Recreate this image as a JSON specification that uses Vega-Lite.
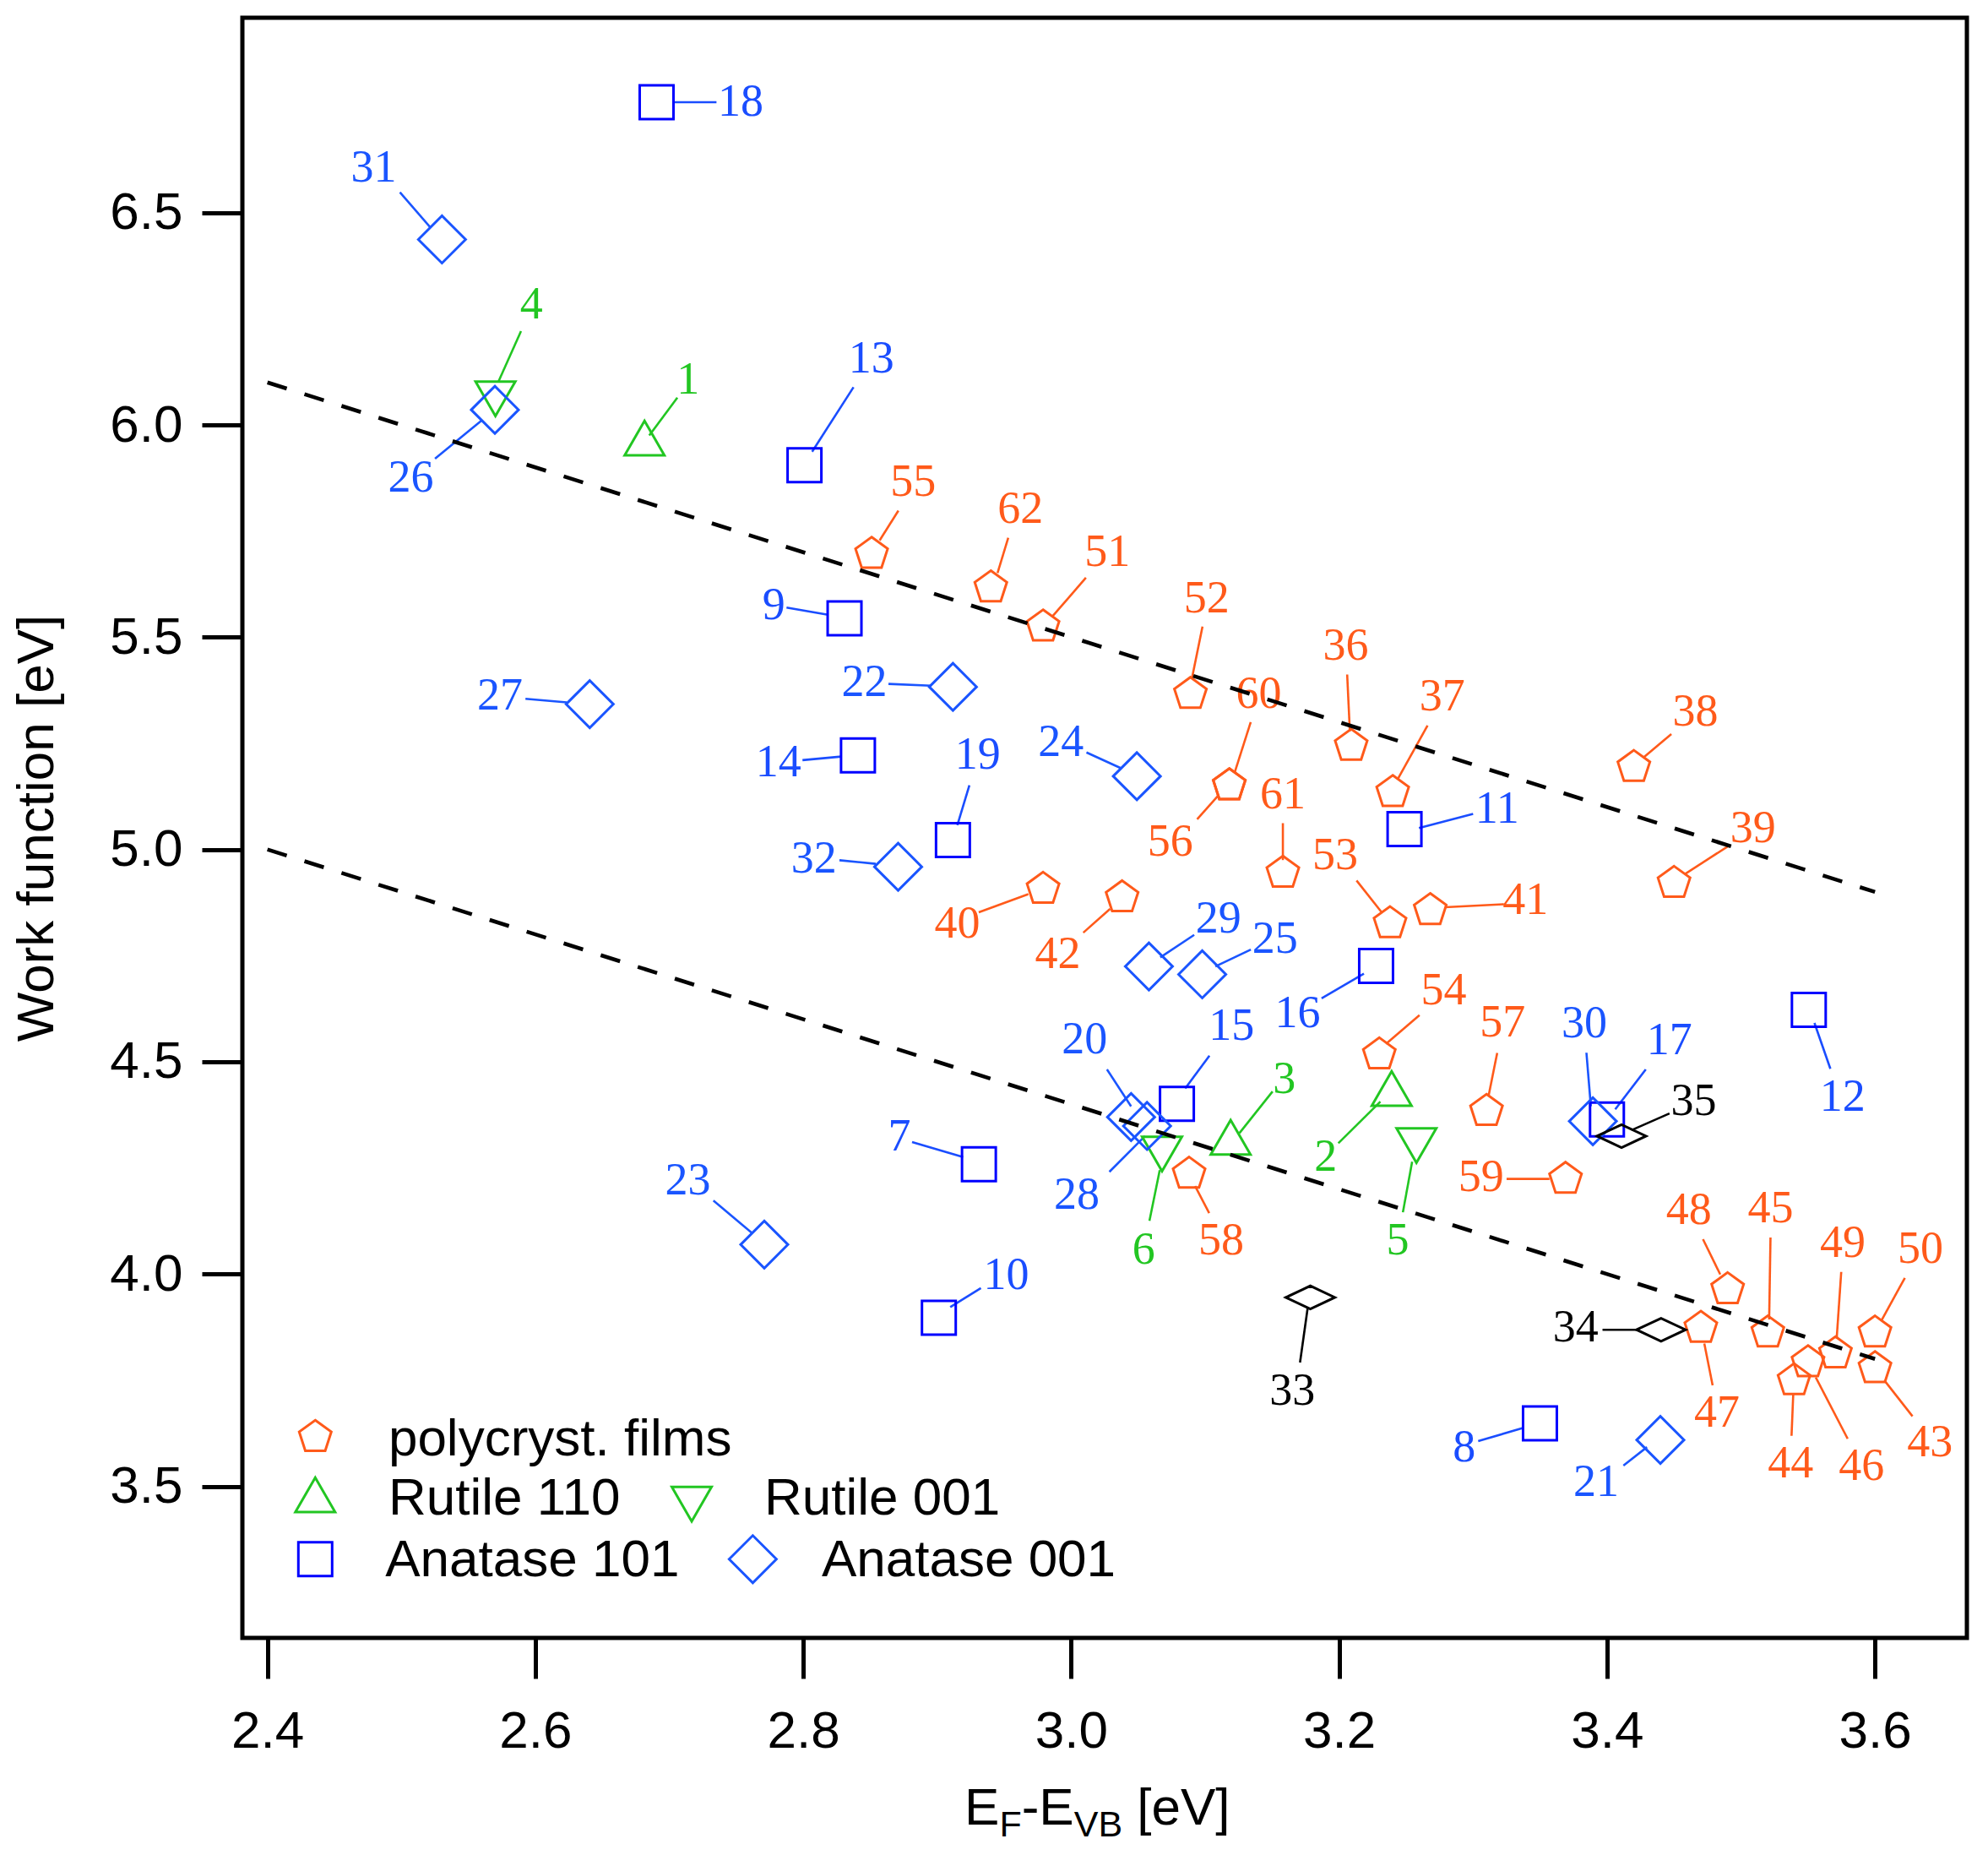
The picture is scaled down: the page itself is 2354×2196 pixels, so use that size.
{
  "$schema": "https://vega.github.io/schema/vega-lite/v6.json",
  "width": 2042,
  "height": 1918,
  "autosize": {"type": "none"},
  "padding": {"left": 287, "top": 21, "right": 25, "bottom": 257},
  "background": "white",
  "config": {
    "view": {"stroke": "black", "strokeWidth": 5},
    "axis": {
      "domain": false,
      "grid": false,
      "ticks": true,
      "tickColor": "black",
      "tickWidth": 5,
      "tickSize": 48,
      "labelFont": "Liberation Sans",
      "labelFontSize": 62,
      "labelColor": "black",
      "titleFont": "Liberation Sans",
      "titleFontSize": 62,
      "titleFontWeight": "normal",
      "titleColor": "black"
    },
    "axisX": {"labelPadding": 32},
    "axisY": {"labelPadding": 23, "titlePadding": 54}
  },
  "datasets": {
    "points": [
      {"id": "55", "cat": "polycryst. films", "x": 2.851, "y": 5.696, "tx": 2.882, "ty": 5.864, "x1": 2.857, "y1": 5.728, "x2": 2.871, "y2": 5.798},
      {"id": "62", "cat": "polycryst. films", "x": 2.940, "y": 5.617, "tx": 2.962, "ty": 5.801, "x1": 2.945, "y1": 5.651, "x2": 2.953, "y2": 5.734},
      {"id": "51", "cat": "polycryst. films", "x": 2.979, "y": 5.525, "tx": 3.027, "ty": 5.700, "x1": 2.986, "y1": 5.549, "x2": 3.011, "y2": 5.640},
      {"id": "52", "cat": "polycryst. films", "x": 3.089, "y": 5.366, "tx": 3.101, "ty": 5.591, "x1": 3.090, "y1": 5.401, "x2": 3.098, "y2": 5.525},
      {"id": "36", "cat": "polycryst. films", "x": 3.209, "y": 5.244, "tx": 3.205, "ty": 5.478, "x1": 3.208, "y1": 5.278, "x2": 3.206, "y2": 5.412},
      {"id": "37", "cat": "polycryst. films", "x": 3.240, "y": 5.135, "tx": 3.277, "ty": 5.359, "x1": 3.244, "y1": 5.167, "x2": 3.266, "y2": 5.292},
      {"id": "38", "cat": "polycryst. films", "x": 3.420, "y": 5.194, "tx": 3.466, "ty": 5.324, "x1": 3.427, "y1": 5.216, "x2": 3.448, "y2": 5.272},
      {"id": "39", "cat": "polycryst. films", "x": 3.450, "y": 4.921, "tx": 3.509, "ty": 5.050, "x1": 3.458, "y1": 4.942, "x2": 3.492, "y2": 5.011},
      {"id": "60", "cat": "polycryst. films", "x": 3.118, "y": 5.151, "tx": 3.140, "ty": 5.366, "x1": 3.122, "y1": 5.181, "x2": 3.134, "y2": 5.300},
      {"id": "56", "cat": "polycryst. films", "x": 3.118, "y": 5.151, "tx": 3.074, "ty": 5.018, "x1": 3.110, "y1": 5.128, "x2": 3.094, "y2": 5.071},
      {"id": "61", "cat": "polycryst. films", "x": 3.158, "y": 4.945, "tx": 3.158, "ty": 5.128, "x1": 3.158, "y1": 4.975, "x2": 3.158, "y2": 5.062},
      {"id": "53", "cat": "polycryst. films", "x": 3.238, "y": 4.826, "tx": 3.197, "ty": 4.985, "x1": 3.232, "y1": 4.851, "x2": 3.213, "y2": 4.927},
      {"id": "41", "cat": "polycryst. films", "x": 3.268, "y": 4.857, "tx": 3.339, "ty": 4.879, "x1": 3.279, "y1": 4.864, "x2": 3.323, "y2": 4.871},
      {"id": "40", "cat": "polycryst. films", "x": 2.979, "y": 4.907, "tx": 2.915, "ty": 4.825, "x1": 2.968, "y1": 4.895, "x2": 2.931, "y2": 4.852},
      {"id": "42", "cat": "polycryst. films", "x": 3.038, "y": 4.887, "tx": 2.990, "ty": 4.752, "x1": 3.029, "y1": 4.860, "x2": 3.009, "y2": 4.804},
      {"id": "54", "cat": "polycryst. films", "x": 3.230, "y": 4.517, "tx": 3.278, "ty": 4.668, "x1": 3.235, "y1": 4.542, "x2": 3.260, "y2": 4.610},
      {"id": "57", "cat": "polycryst. films", "x": 3.310, "y": 4.384, "tx": 3.322, "ty": 4.592, "x1": 3.3115, "y1": 4.419, "x2": 3.318, "y2": 4.521},
      {"id": "59", "cat": "polycryst. films", "x": 3.369, "y": 4.224, "tx": 3.306, "ty": 4.227, "x1": 3.357, "y1": 4.224, "x2": 3.325, "y2": 4.224},
      {"id": "58", "cat": "polycryst. films", "x": 3.088, "y": 4.236, "tx": 3.112, "ty": 4.079, "x1": 3.0925, "y1": 4.207, "x2": 3.103, "y2": 4.1435},
      {"id": "48", "cat": "polycryst. films", "x": 3.490, "y": 3.964, "tx": 3.461, "ty": 4.150, "x1": 3.4845, "y1": 3.999, "x2": 3.4716, "y2": 4.082},
      {"id": "47", "cat": "polycryst. films", "x": 3.470, "y": 3.873, "tx": 3.482, "ty": 3.672, "x1": 3.4726, "y1": 3.8365, "x2": 3.4788, "y2": 3.738},
      {"id": "45", "cat": "polycryst. films", "x": 3.520, "y": 3.862, "tx": 3.522, "ty": 4.154, "x1": 3.521, "y1": 3.893, "x2": 3.522, "y2": 4.086},
      {"id": "49", "cat": "polycryst. films", "x": 3.5705, "y": 3.813, "tx": 3.576, "ty": 4.072, "x1": 3.5714, "y1": 3.848, "x2": 3.5748, "y2": 4.005},
      {"id": "50", "cat": "polycryst. films", "x": 3.600, "y": 3.862, "tx": 3.634, "ty": 4.058, "x1": 3.6047, "y1": 3.890, "x2": 3.6223, "y2": 3.991},
      {"id": "43", "cat": "polycryst. films", "x": 3.600, "y": 3.778, "tx": 3.641, "ty": 3.602, "x1": 3.607, "y1": 3.7495, "x2": 3.628, "y2": 3.665},
      {"id": "44", "cat": "polycryst. films", "x": 3.5396, "y": 3.7495, "tx": 3.537, "ty": 3.553, "x1": 3.539, "y1": 3.7186, "x2": 3.5377, "y2": 3.619},
      {"id": "46", "cat": "polycryst. films", "x": 3.550, "y": 3.792, "tx": 3.590, "ty": 3.546, "x1": 3.5558, "y1": 3.7565, "x2": 3.5796, "y2": 3.612},
      {"id": "1", "cat": "Rutile 110", "x": 2.6815, "y": 5.969, "tx": 2.714, "ty": 6.106, "x1": 2.685, "y1": 5.975, "x2": 2.706, "y2": 6.064},
      {"id": "2", "cat": "Rutile 110", "x": 3.2392, "y": 4.437, "tx": 3.190, "ty": 4.275, "x1": 3.2308, "y1": 4.406, "x2": 3.1994, "y2": 4.308},
      {"id": "3", "cat": "Rutile 110", "x": 3.119, "y": 4.322, "tx": 3.159, "ty": 4.458, "x1": 3.1256, "y1": 4.332, "x2": 3.1503, "y2": 4.430},
      {"id": "4", "cat": "Rutile 001", "x": 2.5702, "y": 6.0615, "tx": 2.597, "ty": 6.2825, "x1": 2.5726, "y1": 6.103, "x2": 2.5893, "y2": 6.2207},
      {"id": "5", "cat": "Rutile 001", "x": 3.2577, "y": 4.3025, "tx": 3.2437, "ty": 4.079, "x1": 3.2545, "y1": 4.2647, "x2": 3.2476, "y2": 4.1455},
      {"id": "6", "cat": "Rutile 001", "x": 3.0678, "y": 4.2827, "tx": 3.0541, "ty": 4.0558, "x1": 3.0661, "y1": 4.2449, "x2": 3.0584, "y2": 4.1255},
      {"id": "18", "cat": "Anatase 101", "x": 2.6905, "y": 6.760, "tx": 2.7533, "ty": 6.760, "x1": 2.7034, "y1": 6.760, "x2": 2.7352, "y2": 6.760},
      {"id": "13", "cat": "Anatase 101", "x": 2.8009, "y": 5.905, "tx": 2.8508, "ty": 6.1562, "x1": 2.8066, "y1": 5.937, "x2": 2.8375, "y2": 6.0888},
      {"id": "9", "cat": "Anatase 101", "x": 2.8308, "y": 5.5443, "tx": 2.778, "ty": 5.574, "x1": 2.8184, "y1": 5.5528, "x2": 2.7875, "y2": 5.5696},
      {"id": "14", "cat": "Anatase 101", "x": 2.8408, "y": 5.2216, "tx": 2.7814, "ty": 5.2048, "x1": 2.8284, "y1": 5.2188, "x2": 2.7994, "y2": 5.2104},
      {"id": "19", "cat": "Anatase 101", "x": 2.9117, "y": 5.0223, "tx": 2.9302, "ty": 5.2216, "x1": 2.915, "y1": 5.0574, "x2": 2.924, "y2": 5.1514},
      {"id": "7", "cat": "Anatase 101", "x": 2.9311, "y": 4.2589, "tx": 2.8717, "ty": 4.322, "x1": 2.9193, "y1": 4.2757, "x2": 2.8812, "y2": 4.3108},
      {"id": "10", "cat": "Anatase 101", "x": 2.9012, "y": 3.8969, "tx": 2.9515, "ty": 3.997, "x1": 2.9097, "y1": 3.9221, "x2": 2.9326, "y2": 3.967},
      {"id": "15", "cat": "Anatase 101", "x": 3.0789, "y": 4.4007, "tx": 3.1196, "ty": 4.583, "x1": 3.0851, "y1": 4.4372, "x2": 3.1032, "y2": 4.5144},
      {"id": "16", "cat": "Anatase 101", "x": 3.2276, "y": 4.7257, "tx": 3.169, "ty": 4.6132, "x1": 3.2185, "y1": 4.7074, "x2": 3.1869, "y2": 4.6495},
      {"id": "11", "cat": "Anatase 101", "x": 3.2488, "y": 5.048, "tx": 3.318, "ty": 5.0953, "x1": 3.2596, "y1": 5.0504, "x2": 3.300, "y2": 5.084},
      {"id": "17", "cat": "Anatase 101", "x": 3.3999, "y": 4.3642, "tx": 3.4466, "ty": 4.5494, "x1": 3.4061, "y1": 4.388, "x2": 3.4289, "y2": 4.482},
      {"id": "12", "cat": "Anatase 101", "x": 3.5506, "y": 4.6224, "tx": 3.5758, "ty": 4.4162, "x1": 3.5548, "y1": 4.5915, "x2": 3.5667, "y2": 4.4835},
      {"id": "8", "cat": "Anatase 101", "x": 3.3499, "y": 3.6485, "tx": 3.2934, "ty": 3.5909, "x1": 3.3371, "y1": 3.6373, "x2": 3.3038, "y2": 3.6064},
      {"id": "31", "cat": "Anatase 001", "x": 2.5303, "y": 6.4368, "tx": 2.4794, "ty": 6.6052, "x1": 2.5217, "y1": 6.465, "x2": 2.4989, "y2": 6.5477},
      {"id": "26", "cat": "Anatase 001", "x": 2.5698, "y": 6.0355, "tx": 2.507, "ty": 5.874, "x1": 2.5603, "y1": 6.0116, "x2": 2.5251, "y2": 5.9204},
      {"id": "27", "cat": "Anatase 001", "x": 2.6406, "y": 5.3423, "tx": 2.5736, "ty": 5.362, "x1": 2.6235, "y1": 5.3465, "x2": 2.5926, "y2": 5.3549},
      {"id": "22", "cat": "Anatase 001", "x": 2.9117, "y": 5.383, "tx": 2.8456, "ty": 5.3928, "x1": 2.8955, "y1": 5.3858, "x2": 2.8636, "y2": 5.39},
      {"id": "32", "cat": "Anatase 001", "x": 2.8708, "y": 4.9592, "tx": 2.808, "ty": 4.9775, "x1": 2.8541, "y1": 4.9662, "x2": 2.827, "y2": 4.9747},
      {"id": "24", "cat": "Anatase 001", "x": 3.049, "y": 5.1725, "tx": 2.9924, "ty": 5.251, "x1": 3.0376, "y1": 5.1907, "x2": 3.0114, "y2": 5.2286},
      {"id": "29", "cat": "Anatase 001", "x": 3.058, "y": 4.7245, "tx": 3.1099, "ty": 4.8352, "x1": 3.0665, "y1": 4.7458, "x2": 3.0918, "y2": 4.7989},
      {"id": "25", "cat": "Anatase 001", "x": 3.0978, "y": 4.7059, "tx": 3.1521, "ty": 4.789, "x1": 3.1076, "y1": 4.7245, "x2": 3.1341, "y2": 4.7644},
      {"id": "20", "cat": "Anatase 001", "x": 3.0447, "y": 4.3698, "tx": 3.010, "ty": 4.551, "x1": 3.0267, "y1": 4.4821, "x2": 3.0447, "y2": 4.3951},
      {"id": "28", "cat": "Anatase 001", "x": 3.0566, "y": 4.3488, "tx": 3.0041, "ty": 4.1852, "x1": 3.0285, "y1": 4.2407, "x2": 3.0551, "y2": 4.3249},
      {"id": "30", "cat": "Anatase 001", "x": 3.3894, "y": 4.3599, "tx": 3.3831, "ty": 4.589, "x1": 3.3879, "y1": 4.395, "x2": 3.3846, "y2": 4.5213},
      {"id": "23", "cat": "Anatase 001", "x": 2.7709, "y": 4.0695, "tx": 2.7138, "ty": 4.2196, "x1": 2.7614, "y1": 4.0975, "x2": 2.7329, "y2": 4.1733},
      {"id": "21", "cat": "Anatase 001", "x": 3.4398, "y": 3.6092, "tx": 3.3918, "ty": 3.5082, "x1": 3.4298, "y1": 3.5924, "x2": 3.4122, "y2": 3.5489},
      {"id": "33", "cat": "other", "x": 3.1785, "y": 3.945, "tx": 3.1651, "ty": 3.7243, "x1": 3.1765, "y1": 3.92, "x2": 3.1708, "y2": 3.7916},
      {"id": "34", "cat": "other", "x": 3.4403, "y": 3.8688, "tx": 3.3766, "ty": 3.873, "x1": 3.4241, "y1": 3.8688, "x2": 3.3966, "y2": 3.8688},
      {"id": "35", "cat": "other", "x": 3.4108, "y": 4.3249, "tx": 3.4647, "ty": 4.4063, "x1": 3.4183, "y1": 4.339, "x2": 3.4466, "y2": 4.3783}
    ],
    "trend": [
      {"g": "upper", "x": 2.4, "y": 6.1},
      {"g": "upper", "x": 3.6, "y": 4.9},
      {"g": "lower", "x": 2.4, "y": 5.0},
      {"g": "lower", "x": 3.6, "y": 3.8}
    ],
    "legend": [
      {"cat": "polycryst. films", "sx": 2.4357, "sy": 3.616, "tx": 2.4903, "ty": 3.573},
      {"cat": "Rutile 110", "sx": 2.4357, "sy": 3.480, "tx": 2.4903, "ty": 3.434},
      {"cat": "Rutile 001", "sx": 2.7167, "sy": 3.458, "tx": 2.7709, "ty": 3.434},
      {"cat": "Anatase 101", "sx": 2.4357, "sy": 3.3285, "tx": 2.488, "ty": 3.289},
      {"cat": "Anatase 001", "sx": 2.7623, "sy": 3.3285, "tx": 2.8137, "ty": 3.289}
    ]
  },
  "layer": [
    {
      "data": {"name": "points"},
      "mark": {"type": "rule", "strokeWidth": 2.6},
      "encoding": {
        "x": {"field": "x1", "type": "quantitative", "title": null, "scale": {"domain": [2.3813, 3.6686], "nice": false, "zero": false}, "axis": {"values": [2.4, 2.6, 2.8, 3.0, 3.2, 3.4, 3.6], "format": ".1f"}},
        "y": {"field": "y1", "type": "quantitative", "title": "Work function [eV]", "scale": {"domain": [3.143, 6.959], "nice": false, "zero": false}, "axis": {"values": [3.5, 4.0, 4.5, 5.0, 5.5, 6.0, 6.5], "format": ".1f"}},
        "x2": {"field": "x2"},
        "y2": {"field": "y2"},
        "color": {"field": "cat", "type": "nominal", "legend": null, "scale": {"domain": ["polycryst. films", "Rutile 110", "Rutile 001", "Anatase 101", "Anatase 001", "other"], "range": ["#ff5a1a", "#22c622", "#22c622", "#1a4dff", "#1a55ff", "#000000"]}}
      }
    },
    {
      "data": {"name": "points"},
      "mark": {"type": "point", "filled": false, "strokeWidth": 3, "opacity": 1},
      "encoding": {
        "x": {"field": "x", "type": "quantitative", "title": null, "scale": {"domain": [2.3813, 3.6686], "nice": false, "zero": false}},
        "y": {"field": "y", "type": "quantitative", "title": "Work function [eV]", "scale": {"domain": [3.143, 6.959], "nice": false, "zero": false}},
        "stroke": {"field": "cat", "type": "nominal", "legend": null, "scale": {"domain": ["polycryst. films", "Rutile 110", "Rutile 001", "Anatase 101", "Anatase 001", "other"], "range": ["#ff5a1a", "#22c622", "#22c622", "#0000ff", "#1a55ff", "#000000"]}},
        "shape": {"field": "cat", "type": "nominal", "legend": null, "scale": {"domain": ["polycryst. films", "Rutile 110", "Rutile 001", "Anatase 101", "Anatase 001", "other"], "range": ["M0,-1L0.951,-0.309L0.588,0.809L-0.588,0.809L-0.951,-0.309Z", "triangle-up", "triangle-down", "square", "diamond", "M-1,0L0,-0.47L1,0L0,0.47Z"]}},
        "size": {"field": "cat", "type": "nominal", "legend": null, "scale": {"type": "ordinal", "domain": ["polycryst. films", "Rutile 110", "Rutile 001", "Anatase 101", "Anatase 001", "other"], "range": [1600, 2209, 2209, 1600, 3136, 3364]}}
      }
    },
    {
      "data": {"name": "points"},
      "mark": {"type": "text", "font": "Liberation Serif", "fontSize": 54, "align": "center", "baseline": "middle"},
      "encoding": {
        "x": {"field": "tx", "type": "quantitative", "title": null, "scale": {"domain": [2.3813, 3.6686], "nice": false, "zero": false}},
        "y": {"field": "ty", "type": "quantitative", "title": "Work function [eV]", "scale": {"domain": [3.143, 6.959], "nice": false, "zero": false}},
        "text": {"field": "id", "type": "nominal"},
        "color": {"field": "cat", "type": "nominal", "legend": null, "scale": {"domain": ["polycryst. films", "Rutile 110", "Rutile 001", "Anatase 101", "Anatase 001", "other"], "range": ["#ff5a1a", "#22c622", "#22c622", "#1a4dff", "#1a55ff", "#000000"]}}
      }
    },
    {
      "data": {"name": "trend"},
      "mark": {"type": "line", "color": "black", "strokeWidth": 4.6, "strokeDash": [24, 22]},
      "encoding": {
        "x": {"field": "x", "type": "quantitative", "title": null, "scale": {"domain": [2.3813, 3.6686], "nice": false, "zero": false}},
        "y": {"field": "y", "type": "quantitative", "title": "Work function [eV]", "scale": {"domain": [3.143, 6.959], "nice": false, "zero": false}},
        "detail": {"field": "g", "type": "nominal"}
      }
    },
    {
      "data": {"name": "legend"},
      "mark": {"type": "point", "filled": false, "strokeWidth": 3, "opacity": 1},
      "encoding": {
        "x": {"field": "sx", "type": "quantitative", "title": null, "scale": {"domain": [2.3813, 3.6686], "nice": false, "zero": false}},
        "y": {"field": "sy", "type": "quantitative", "title": "Work function [eV]", "scale": {"domain": [3.143, 6.959], "nice": false, "zero": false}},
        "stroke": {"field": "cat", "type": "nominal", "legend": null, "scale": {"domain": ["polycryst. films", "Rutile 110", "Rutile 001", "Anatase 101", "Anatase 001", "other"], "range": ["#ff5a1a", "#22c622", "#22c622", "#0000ff", "#1a55ff", "#000000"]}},
        "shape": {"field": "cat", "type": "nominal", "legend": null, "scale": {"domain": ["polycryst. films", "Rutile 110", "Rutile 001", "Anatase 101", "Anatase 001", "other"], "range": ["M0,-1L0.951,-0.309L0.588,0.809L-0.588,0.809L-0.951,-0.309Z", "triangle-up", "triangle-down", "square", "diamond", "M-1,0L0,-0.47L1,0L0,0.47Z"]}},
        "size": {"field": "cat", "type": "nominal", "legend": null, "scale": {"type": "ordinal", "domain": ["polycryst. films", "Rutile 110", "Rutile 001", "Anatase 101", "Anatase 001", "other"], "range": [1600, 2209, 2209, 1600, 3136, 3364]}}
      }
    },
    {
      "data": {"name": "legend"},
      "mark": {"type": "text", "font": "Liberation Sans", "fontSize": 62, "align": "left", "baseline": "alphabetic", "color": "black"},
      "encoding": {
        "x": {"field": "tx", "type": "quantitative", "title": null, "scale": {"domain": [2.3813, 3.6686], "nice": false, "zero": false}},
        "y": {"field": "ty", "type": "quantitative", "title": "Work function [eV]", "scale": {"domain": [3.143, 6.959], "nice": false, "zero": false}},
        "text": {"field": "cat", "type": "nominal"}
      }
    },
    {
      "data": {"values": [{}]},
      "mark": {"type": "text", "text": "E", "font": "Liberation Sans", "fontSize": 62, "align": "left", "baseline": "alphabetic", "color": "black", "dx": 0},
      "encoding": {"x": {"datum": 2.9203, "type": "quantitative"}, "y": {"datum": 2.703, "type": "quantitative"}}
    },
    {
      "data": {"values": [{}]},
      "mark": {"type": "text", "text": "F", "font": "Liberation Sans", "fontSize": 43, "align": "left", "baseline": "alphabetic", "color": "black", "dx": 41.4, "dy": 14},
      "encoding": {"x": {"datum": 2.9203, "type": "quantitative"}, "y": {"datum": 2.703, "type": "quantitative"}}
    },
    {
      "data": {"values": [{}]},
      "mark": {"type": "text", "text": "-E", "font": "Liberation Sans", "fontSize": 62, "align": "left", "baseline": "alphabetic", "color": "black", "dx": 67.7},
      "encoding": {"x": {"datum": 2.9203, "type": "quantitative"}, "y": {"datum": 2.703, "type": "quantitative"}}
    },
    {
      "data": {"values": [{}]},
      "mark": {"type": "text", "text": "VB", "font": "Liberation Sans", "fontSize": 43, "align": "left", "baseline": "alphabetic", "color": "black", "dx": 129.7, "dy": 14},
      "encoding": {"x": {"datum": 2.9203, "type": "quantitative"}, "y": {"datum": 2.703, "type": "quantitative"}}
    },
    {
      "data": {"values": [{}]},
      "mark": {"type": "text", "text": "[eV]", "font": "Liberation Sans", "fontSize": 62, "align": "left", "baseline": "alphabetic", "color": "black", "dx": 204.3},
      "encoding": {"x": {"datum": 2.9203, "type": "quantitative"}, "y": {"datum": 2.703, "type": "quantitative"}}
    }
  ]
}
